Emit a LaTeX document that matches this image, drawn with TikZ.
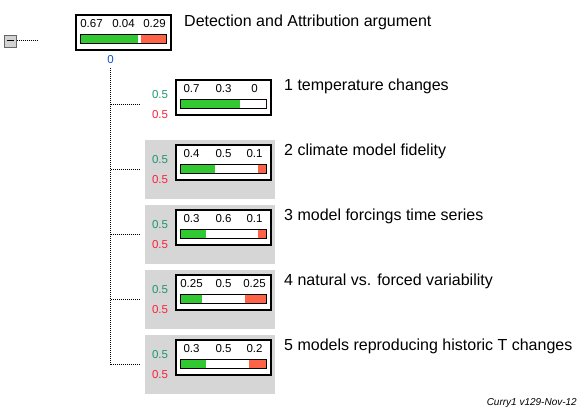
\documentclass[tikz,border=0pt]{standalone}
\usepackage{fontspec}
\setmainfont{Liberation Sans}
\usepackage{tikz}
\usetikzlibrary{positioning,calc}

\definecolor{barGreen}{RGB}{50,200,50}
\definecolor{barRed}{RGB}{255,99,71}
\definecolor{panelGray}{RGB}{214,214,214}
\definecolor{probGreen}{RGB}{30,150,110}
\definecolor{probRed}{RGB}{255,30,60}
\definecolor{stateBlue}{RGB}{20,80,200}

\tikzset{
    argbox/.style={draw, fill=white, line width=1.1pt, minimum width=95pt, minimum height=35pt, inner sep=0pt},
    numtext/.style={font=\fontsize{11.5}{11.5}\selectfont, anchor=base, inner sep=0pt},
    labeltext/.style={font=\fontsize{16}{16}\selectfont, anchor=base west, inner sep=0pt},
    treeline/.style={line width=1pt, dash pattern=on 1pt off 1pt},
}

\begin{document}
\begin{tikzpicture}[x=1pt,y=-1pt]
    \useasboundingbox (0,0) rectangle (582,414);

    % grey panels behind the lower four nodes
    \foreach \top in {145,210,275,340}
        \fill[panelGray] (145,\top-5) rectangle (275,\top+54);

    % collapse toggle
    \node[draw=gray!80!black, fill=gray!35, minimum size=12pt, inner sep=0pt] (toggle) at (10.5,41) {};
    \draw[line width=1pt] ($(toggle.west)+(2.5,0)$) -- ($(toggle.east)+(-2.5,0)$);
    \draw[treeline] (toggle.east) -- ++(21,0);

    % root node
    \node[argbox] (root) at (123.5,32.5) {};
    \node[numtext] (rootp) at ($(root.north)+(-32,13.5)$) {0.67};
    \node[numtext] (rootq) at ($(root.north)+(0,13.5)$) {0.04};
    \node[numtext] (rootr) at ($(root.north)+(31,13.5)$) {0.29};
    \draw[fill=white, line width=1pt] ($(root.north west)+(5,20)$) rectangle ($(root.north east)+(-5,29)$);
    \fill[barGreen] ($(root.north west)+(5.5,20.5)$) rectangle ++(0.67*85,8);
    \fill[barRed] ($(root.north east)+(-5.5,20.5)$) rectangle ++(-0.29*85,8);
    \node[labeltext] (rootlabel) at (184,27) {Detection and Attribution argument};
    \node[numtext, text=stateBlue] (rootval) at (110.5,63.5) {0};

    % children
    \foreach \i/\top/\pa/\pb/\pc/\txt in {
        1/80/0.7/0.3/0/{1 temperature changes},
        2/145/0.4/0.5/0.1/{2 climate model fidelity},
        3/210/0.3/0.6/0.1/{3 model forcings time series},
        4/275/0.25/0.5/0.25/{4 natural vs. forced variability},
        5/340/0.3/0.5/0.2/{5 models reproducing historic T changes}}
    {
        \node[argbox] (n\i) at (223.5,\top+17.5) {};
        \node[numtext] (p\i) at ($(n\i.north)+(-32,13.5)$) {\pa};
        \node[numtext] (q\i) at ($(n\i.north)+(0,13.5)$) {\pb};
        \node[numtext] (r\i) at ($(n\i.north)+(31,13.5)$) {\pc};
        \draw[fill=white, line width=1pt] ($(n\i.north west)+(5,20)$) rectangle ($(n\i.north east)+(-5,29)$);
        \fill[barGreen] ($(n\i.north west)+(5.5,20.5)$) rectangle ++({\pa*84},8);
        \fill[barRed] ($(n\i.north east)+(-5.5,20.5)$) rectangle ++({-\pc*84},8);
        \node[labeltext] (l\i) at (284,\top+11) {\txt};
        \node[numtext, text=probGreen] (yes\i) at (160,\top+18.5) {0.5};
        \node[numtext, text=probRed] (no\i) at (160,\top+38.5) {0.5};
        \coordinate (b\i) at (110.5,\top+25);
        \draw[treeline] (b\i) -- ++(29,0);
    }

    % trunk
    \draw[treeline] ($(rootval.south)+(0,4)$) -- (b5);

    \node[anchor=base east, inner sep=0pt, font=\fontsize{10}{10}\selectfont\itshape] (stamp) at (577,406) {Curry1 v129-Nov-12};
\end{tikzpicture}
\end{document}
